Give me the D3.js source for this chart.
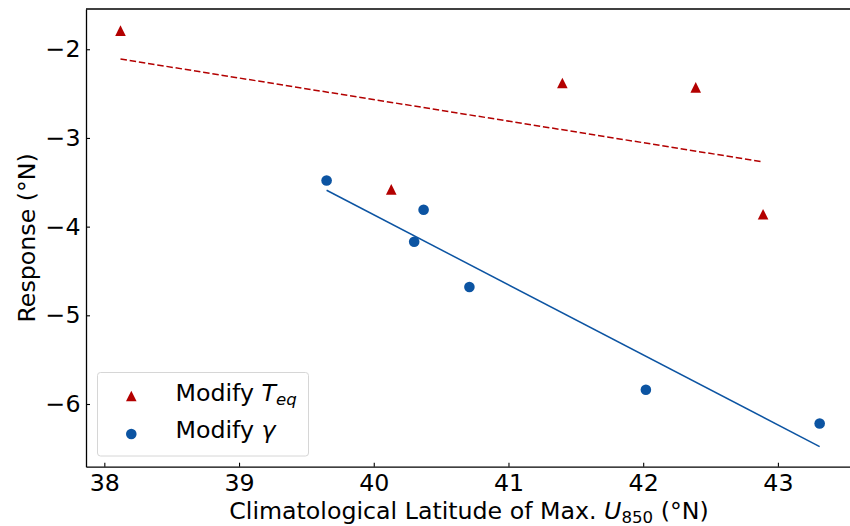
<!DOCTYPE html>
<html>
<head>
<meta charset="utf-8">
<script src="https://cdn.jsdelivr.net/npm/d3@7"></script>
<style>
  body { margin: 0; background: #fff; }
  svg { display: block; font-family: "DejaVu Sans", sans-serif; }
</style>
</head>
<body>
<svg id="chart" width="850" height="526"></svg>
<script>
// values
const teqX = [38.12, 40.13, 41.40, 42.39, 42.89];
const teqY = [-1.79, -3.58, -2.38, -2.43, -3.86];
const gammaX = [39.65, 40.30, 40.37, 40.71, 42.02, 43.31];
const gammaY = [-3.48, -4.17, -3.81, -4.68, -5.84, -6.22];

// fitted lines (end points)
const teqFitX = [38.12, 42.89];
const teqFitY = [-2.11, -3.27];
const gammaFitX = [39.65, 43.31];
const gammaFitY = [-3.59, -6.48];

const xTicks = [38, 39, 40, 41, 42, 43];
const yTicks = [-2, -3, -4, -5, -6];

const red = "#b30000";
const blue = "#0c54a2";
const fontSize = "23.7px";
const subSize = "16.6px";

const svg = d3.select("#chart");

const x = d3.scaleLinear().domain([37.864, 43.55]).range([86, 852]);
const y = d3.scaleLinear().domain([-6.707, -1.546]).range([466.7, 9]);

// axes
const xAxis = svg.append("g")
  .attr("transform", `translate(0,${y.range()[0]})`)
  .call(d3.axisBottom(x).tickValues(xTicks).tickFormat(d3.format("d"))
    .tickSizeInner(-4).tickSizeOuter(0).tickPadding(7.5));

const yAxis = svg.append("g")
  .attr("transform", `translate(${x.range()[0]},0)`)
  .call(d3.axisLeft(y).tickValues(yTicks).tickFormat(d3.format("d"))
    .tickSizeInner(-4).tickSizeOuter(0).tickPadding(5.5));

[xAxis, yAxis].forEach(a => {
  a.selectAll("text").style("font-size", fontSize).attr("fill", "#000")
    .style("font-family", "DejaVu Sans");
  a.selectAll("line").attr("stroke", "#000").attr("stroke-width", 1.1);
  a.select(".domain").attr("stroke", "#000").attr("stroke-width", 1.3);
});

// top spine
svg.append("line")
  .attr("x1", x.range()[0]).attr("x2", x.range()[1])
  .attr("y1", y.range()[1]).attr("y2", y.range()[1])
  .attr("stroke", "#000").attr("stroke-width", 1.3);

// fit lines
const line = d3.line().x(d => x(d[0])).y(d => y(d[1]));

svg.append("path")
  .datum(d3.zip(teqFitX, teqFitY))
  .attr("fill", "none")
  .attr("stroke", red)
  .attr("stroke-width", 1.5)
  .attr("stroke-dasharray", "6.5,2.8")
  .attr("d", line);

svg.append("path")
  .datum(d3.zip(gammaFitX, gammaFitY))
  .attr("fill", "none")
  .attr("stroke", blue)
  .attr("stroke-width", 1.5)
  .attr("d", line);

// matplotlib style "^" marker
const tri = h => `M0,${-h}L${h},${h}L${-h},${h}Z`;

svg.selectAll(".teq")
  .data(d3.zip(teqX, teqY))
  .enter()
  .append("path")
  .attr("class", "teq")
  .attr("transform", d => `translate(${x(d[0])},${y(d[1])})`)
  .attr("d", tri(5.3))
  .attr("fill", red);

svg.selectAll(".gamma")
  .data(d3.zip(gammaX, gammaY))
  .enter()
  .append("circle")
  .attr("class", "gamma")
  .attr("cx", d => x(d[0]))
  .attr("cy", d => y(d[1]))
  .attr("r", 5.3)
  .attr("fill", blue);

// axis labels
const xLabel = svg.append("text")
  .attr("x", (x.range()[0] + x.range()[1]) / 2)
  .attr("y", 519)
  .attr("text-anchor", "middle")
  .style("font-size", fontSize);
xLabel.append("tspan").text("Climatological Latitude of Max. ");
xLabel.append("tspan").attr("font-style", "italic").text("U");
xLabel.append("tspan").attr("font-size", subSize).attr("dy", 4).text("850");
xLabel.append("tspan").attr("dy", -4).text(" (°N)");

svg.append("text")
  .attr("transform", `translate(34.5,${(y.range()[0] + y.range()[1]) / 2}) rotate(-90)`)
  .attr("text-anchor", "middle")
  .style("font-size", fontSize)
  .text("Response (°N)");

// legend
const legend = svg.append("g");
legend.append("rect")
  .attr("x", 97.5).attr("y", 372.5)
  .attr("width", 211).attr("height", 83.5)
  .attr("rx", 3)
  .attr("fill", "#fff").attr("fill-opacity", 0.8)
  .attr("stroke", "#d6d6d6").attr("stroke-width", 1);

legend.append("path")
  .attr("transform", "translate(131.3,396)")
  .attr("d", tri(5.3))
  .attr("fill", red);

legend.append("circle")
  .attr("cx", 131.3).attr("cy", 434)
  .attr("r", 5.3)
  .attr("fill", blue);

const l1 = legend.append("text")
  .attr("x", 175.5).attr("y", 401)
  .style("font-size", fontSize);
l1.append("tspan").text("Modify ");
l1.append("tspan").attr("font-style", "italic").text("T");
l1.append("tspan").attr("font-style", "italic").attr("font-size", subSize)
  .attr("dy", 4).text("eq");

const l2 = legend.append("text")
  .attr("x", 175.5).attr("y", 438)
  .style("font-size", fontSize);
l2.append("tspan").text("Modify ");
l2.append("tspan").attr("font-style", "italic").text("γ");
</script>
</body>
</html>
